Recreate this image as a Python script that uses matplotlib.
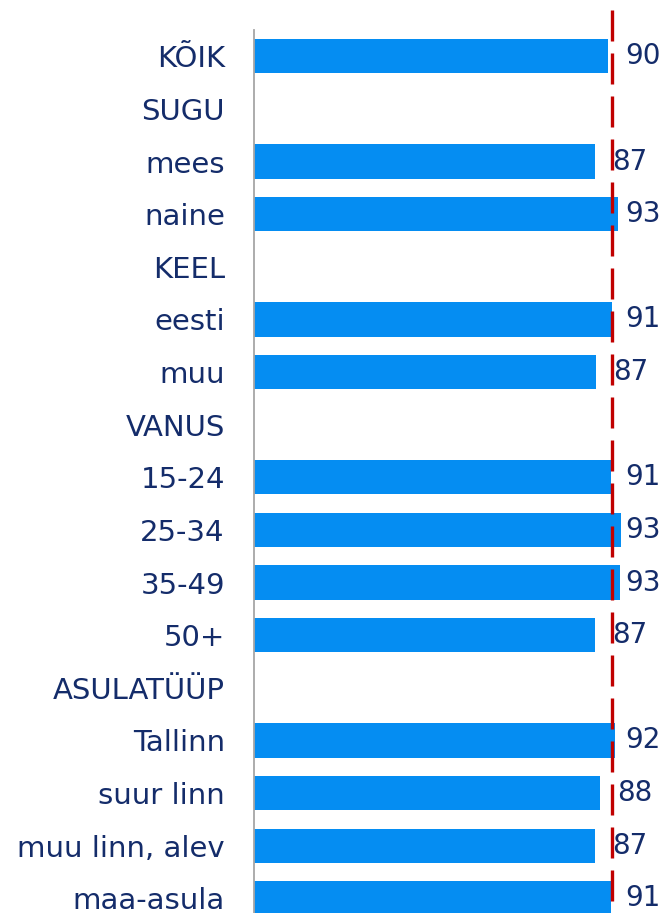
import matplotlib.pyplot as plt

categories = ['KÕIK', 'SUGU', 'mees', 'naine', 'KEEL', 'eesti', 'muu',
              'VANUS', '15-24', '25-34', '35-49', '50+',
              'ASULATÜÜP', 'Tallinn', 'suur linn', 'muu linn, alev', 'maa-asula']
# None = group heading row (no bar)
values = [90.0, None, 86.7, 92.6, None, 91.1, 87.0,
          None, 90.7, 93.2, 92.9, 86.7,
          None, 91.8, 88.0, 86.7, 90.7]
labels = ['90', None, '87', '93', None, '91', '87',
          None, '91', '93', '93', '87',
          None, '92', '88', '87', '91']
average = 91.1

bar_color = '#058DF2'
text_color = '#142C6A'
ref_color = '#C00000'

fig = plt.figure(figsize=(6.64, 9.13), dpi=100)
ax = fig.add_axes([254/664, 0, 1 - 254/664, 883/913])

for i, (v, lab) in enumerate(zip(values, labels)):
    if v is None:
        continue
    ax.barh(i, v, height=0.65, color=bar_color, edgecolor='none', zorder=2)
    ax.text(min(v + 4.3, 94.3), i, lab, va='center', ha='left',
            fontsize=20, color=text_color, zorder=4)

# dashed reference line, runs a bit above the axes
ax.plot([average, average], [-0.88, 16.3], color=ref_color, lw=2.4,
        dashes=(9.3, 3.6), clip_on=False, zorder=3)

ax.set_xlim(0, 104.2)
ax.set_ylim(16.28, -0.5)
ax.set_yticks(range(len(categories)))
ax.set_yticklabels(categories, fontsize=21, color=text_color)
ax.tick_params(axis='y', length=0, pad=21)
ax.set_xticks([])
for s in ['top', 'right', 'bottom']:
    ax.spines[s].set_visible(False)
ax.spines['left'].set_color('#A6A6A6')
ax.spines['left'].set_linewidth(1.3)

fig.savefig('out.png', dpi=100)
